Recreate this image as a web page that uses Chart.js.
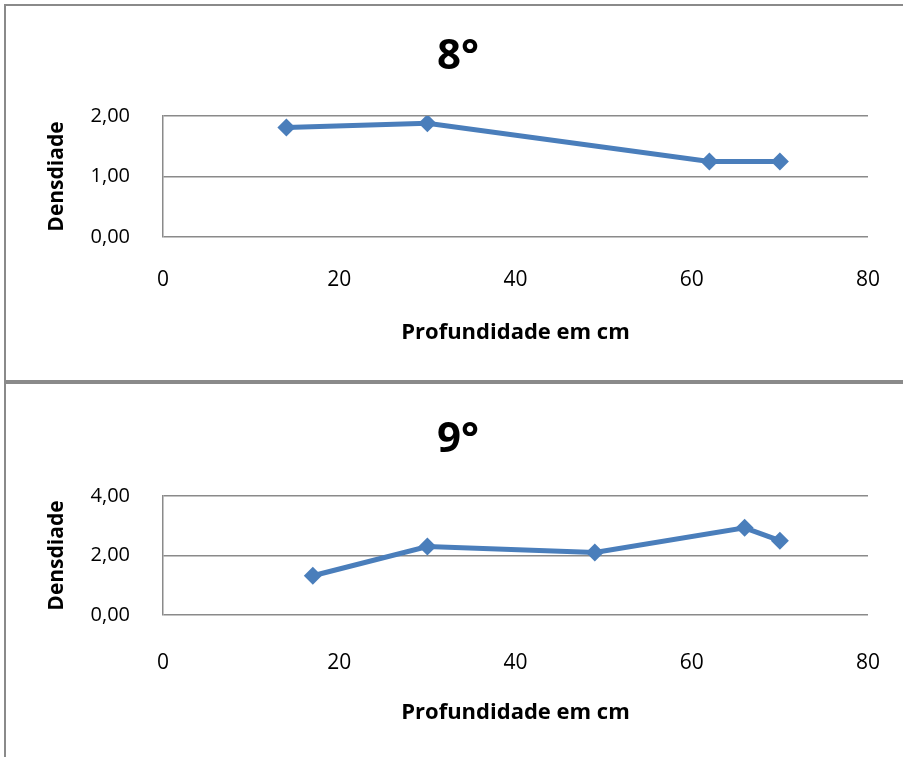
<!DOCTYPE html>
<html>
<head>
<meta charset="utf-8">
<script src="https://cdn.jsdelivr.net/npm/chart.js@4/dist/chart.umd.min.js"></script>
<style>
  html, body { margin: 0; padding: 0; background: #fff; overflow: hidden; }
  body { width: 903px; height: 757px; position: relative; }
  .box { position: absolute; left: 4px; width: 904px; height: 374px; border: 2px solid #8a8a8a; background: #fff; }
  .box canvas { display: block; }
</style>
</head>
<body>
<div class="box" style="top:4px;"><canvas id="chart8" width="904" height="374"></canvas></div>
<div class="box" style="top:382px;"><canvas id="chart9" width="904" height="374"></canvas></div>

<script>
// depth (cm) vs density for each sample
const depth8 = [14, 30, 62, 70];
const density8 = [1.81, 1.88, 1.25, 1.25];

const depth9 = [17, 30, 49, 66, 70];
const density9 = [1.32, 2.30, 2.10, 2.93, 2.50];

const xTicks = [0, 20, 40, 60, 80];
const yTicks8 = [0, 1, 2];
const yTicks9 = [0, 2, 4];

const lineBlue = '#4a7ebb';
const gridGray = '#8a8a8a';
const fontFamily = '"Open Sans", sans-serif';

const toPoints = (xs, ys) => xs.map((x, i) => ({ x: x, y: ys[i] }));
const comma = v => v.toFixed(2).replace('.', ',');

// nudge = extra px pushed down for the lower chart
const makeChart = (id, title, xs, ys, yTicks, nudge) => {
  const ctx = document.getElementById(id).getContext('2d');
  return new Chart(ctx, {
    type: 'line',
    data: {
      datasets: [
        {
          data: toPoints(xs, ys),
          borderColor: lineBlue,
          backgroundColor: lineBlue,
          borderWidth: 5,
          tension: 0,
          pointStyle: 'rectRot',
          pointRadius: 9,
          pointBorderWidth: 0,
          pointBackgroundColor: lineBlue,
        },
      ],
    },
    options: {
      responsive: false,
      animation: false,
      // equal side padding keeps the title centred on the whole box
      layout: { padding: { left: 42, right: 42, top: nudge, bottom: 0 } },
      plugins: {
        legend: { display: false },
        tooltip: { enabled: false },
        title: {
          display: true,
          text: title,
          color: '#000',
          font: { family: fontFamily, size: 42, weight: 'bold' },
          padding: { top: 25.8 + nudge * 1.5, bottom: 33.8 - nudge * 1.5 },
        },
      },
      scales: {
        x: {
          type: 'linear',
          min: xTicks[0],
          max: xTicks[xTicks.length - 1],
          afterFit: scale => {
            scale.height = 143;
            // tick padding shouldn't eat into the plot width
            scale.paddingLeft = 0;
            scale.paddingRight = 0;
          },
          afterBuildTicks: scale => { scale.ticks = xTicks.map(v => ({ value: v })); },
          grid: { display: false, drawTicks: false },
          border: { display: false },
          ticks: {
            color: '#000',
            padding: 30 + nudge * 2.5,
            font: { family: fontFamily, size: 21 },
          },
          title: {
            display: true,
            text: 'Profundidade em cm',
            color: '#000',
            font: { family: fontFamily, size: 22, weight: 'bold' },
            padding: { top: 0, bottom: 33.8 - nudge },
          },
        },
        y: {
          min: yTicks[0],
          max: yTicks[yTicks.length - 1],
          afterFit: scale => { scale.width = 115; },
          afterBuildTicks: scale => { scale.ticks = yTicks.map(v => ({ value: v })); },
          grid: { color: gridGray, lineWidth: 1.5, drawTicks: false },
          border: { display: true, color: gridGray, width: 1.5 },
          ticks: {
            color: '#000',
            padding: 33,
            font: { family: fontFamily, size: 20 },
            callback: v => comma(v),
          },
          title: {
            display: true,
            text: 'Densdiade',
            color: '#000',
            font: { family: fontFamily, size: 21, weight: 'bold' },
            padding: { top: -3.6, bottom: 0 },
          },
        },
      },
    },
  });
};

makeChart('chart8', '8°', depth8, density8, yTicks8, 0);
makeChart('chart9', '9°', depth9, density9, yTicks9, 2);
</script>
</body>
</html>
